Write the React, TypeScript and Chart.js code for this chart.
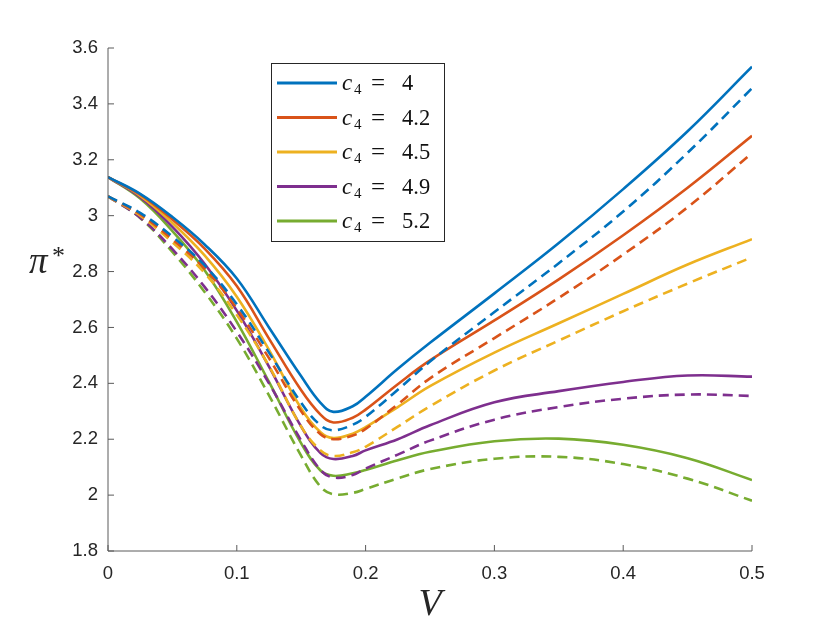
import React, { useEffect, useRef } from 'react';
import { Chart, registerables } from 'chart.js';

Chart.register(...registerables);

// V values (x-axis)
const V = [0, 0.025, 0.05, 0.075, 0.1, 0.125, 0.15, 0.165, 0.175, 0.19, 0.2, 0.225, 0.25, 0.3, 0.35, 0.4, 0.45, 0.5];

const c4Labels = ['4', '4.2', '4.5', '4.9', '5.2'];
const colors = ['#0072BD', '#D95319', '#EDB120', '#7E2F8E', '#77AC30'];

// solid curves
const solidC40 = [3.138, 3.078, 2.995, 2.897, 2.775, 2.6, 2.425, 2.33, 2.298, 2.318, 2.352, 2.452, 2.545, 2.722, 2.902, 3.095, 3.302, 3.533];
const solidC42 = [3.138, 3.075, 2.986, 2.882, 2.748, 2.56, 2.375, 2.288, 2.26, 2.277, 2.306, 2.397, 2.482, 2.625, 2.772, 2.93, 3.1, 3.286];
const solidC45 = [3.138, 3.071, 2.974, 2.858, 2.71, 2.52, 2.31, 2.225, 2.204, 2.22, 2.243, 2.315, 2.39, 2.51, 2.615, 2.72, 2.825, 2.916];
const solidC49 = [3.138, 3.066, 2.96, 2.828, 2.66, 2.46, 2.245, 2.15, 2.129, 2.14, 2.16, 2.2, 2.25, 2.332, 2.372, 2.405, 2.428, 2.424];
const solidC52 = [3.138, 3.061, 2.945, 2.805, 2.62, 2.405, 2.185, 2.088, 2.069, 2.078, 2.09, 2.125, 2.155, 2.193, 2.202, 2.18, 2.132, 2.054];

// dashed curves
const dashC40 = [3.069, 3.01, 2.925, 2.822, 2.683, 2.51, 2.33, 2.25, 2.232, 2.252, 2.28, 2.377, 2.478, 2.655, 2.83, 3.015, 3.225, 3.456];
const dashC42 = [3.069, 3.005, 2.915, 2.81, 2.668, 2.49, 2.3, 2.218, 2.2, 2.213, 2.237, 2.325, 2.418, 2.562, 2.706, 2.861, 3.03, 3.224];
const dashC45 = [3.069, 3.0, 2.905, 2.795, 2.645, 2.462, 2.245, 2.16, 2.14, 2.153, 2.173, 2.245, 2.318, 2.446, 2.553, 2.658, 2.757, 2.851];
const dashC49 = [3.069, 2.993, 2.88, 2.745, 2.585, 2.4, 2.195, 2.09, 2.063, 2.072, 2.095, 2.145, 2.195, 2.27, 2.315, 2.345, 2.36, 2.355];
const dashC52 = [3.069, 2.992, 2.87, 2.727, 2.56, 2.357, 2.14, 2.03, 2.003, 2.008, 2.022, 2.06, 2.093, 2.13, 2.137, 2.111, 2.059, 1.98];

const solidSeries = [solidC40, solidC42, solidC45, solidC49, solidC52];
const dashSeries = [dashC40, dashC42, dashC45, dashC49, dashC52];

const xTicks = [0, 0.1, 0.2, 0.3, 0.4, 0.5];
const xTickLabels = ['0', '0.1', '0.2', '0.3', '0.4', '0.5'];
const yTicks = [1.8, 2, 2.2, 2.4, 2.6, 2.8, 3, 3.2, 3.4, 3.6];
const yTickLabels = ['1.8', '2', '2.2', '2.4', '2.6', '2.8', '3', '3.2', '3.4', '3.6'];

const TICK_FONT = { family: '"Liberation Sans", Arial, sans-serif', size: 18.5 };
const TEXT_COLOR = '#262626';

const toPoints = (arr: number[]) => V.map((v, i) => ({ x: v, y: arr[i] }));

const labelFor = (ticks: number[], labels: string[], value: number) => {
  const i = ticks.findIndex((t) => Math.abs(t - value) < 1e-6);
  return i >= 0 ? labels[i] : '';
};

const axesPlugin = {
  id: 'matlabAxes',
  afterDatasetsDraw(chart: any) {
    const { ctx, chartArea, scales } = chart;
    const { left, right, top, bottom } = chartArea;
    const x = scales.x;
    const y = scales.y;
    ctx.save();
    ctx.strokeStyle = '#5a5a5a';
    ctx.lineWidth = 1;
    ctx.beginPath();
    ctx.moveTo(left, top);
    ctx.lineTo(left, bottom);
    ctx.lineTo(right, bottom);
    ctx.stroke();
    ctx.beginPath();
    yTicks.forEach((v) => {
      const py = y.getPixelForValue(v);
      ctx.moveTo(left, py);
      ctx.lineTo(left + 6, py);
    });
    xTicks.forEach((v) => {
      const px = x.getPixelForValue(v);
      ctx.moveTo(px, bottom);
      ctx.lineTo(px, bottom - 6);
    });
    ctx.stroke();

    // axis titles
    ctx.fillStyle = TEXT_COLOR;
    ctx.textBaseline = 'alphabetic';
    ctx.textAlign = 'center';
    ctx.font = 'italic 38px "Liberation Serif", "DejaVu Serif", serif';
    ctx.fillText('V', (left + right) / 2, 615);

    ctx.textAlign = 'left';
    ctx.font = 'italic 37px "Liberation Serif", "DejaVu Serif", serif';
    ctx.fillText('\u03C0', 29, 273);
    ctx.font = '26px "Liberation Serif", "DejaVu Serif", serif';
    ctx.fillText('*', 52, 264);
    ctx.restore();
  },
};

const legendPlugin = {
  id: 'boxLegend',
  afterDraw(chart: any) {
    const { ctx, chartArea } = chart;
    const bx = chartArea.left + 163;
    const by = chartArea.top + 15;
    const bw = 173;
    const bh = 178;
    ctx.save();
    ctx.fillStyle = '#ffffff';
    ctx.fillRect(bx, by, bw, bh);
    ctx.strokeStyle = '#262626';
    ctx.lineWidth = 1;
    ctx.strokeRect(bx + 0.5, by + 0.5, bw, bh);
    const rowH = 34.5;
    c4Labels.forEach((lab, i) => {
      const cy = by + 20 + i * rowH;
      ctx.strokeStyle = colors[i];
      ctx.lineWidth = 2.8;
      ctx.setLineDash([]);
      ctx.beginPath();
      ctx.moveTo(bx + 6, cy);
      ctx.lineTo(bx + 66, cy);
      ctx.stroke();
      const tx = bx + 71;
      const base = cy + 7;
      ctx.fillStyle = '#111111';
      ctx.textAlign = 'left';
      ctx.textBaseline = 'alphabetic';
      ctx.font = 'italic 23px "Liberation Serif", "DejaVu Serif", serif';
      ctx.fillText('c', tx, base);
      ctx.font = '15px "Liberation Serif", "DejaVu Serif", serif';
      ctx.fillText('4', tx + 12, base + 4);
      ctx.font = '25px "Liberation Serif", "DejaVu Serif", serif';
      ctx.fillText('=', tx + 29, base + 1);
      ctx.font = '22.5px "Liberation Serif", "DejaVu Serif", serif';
      ctx.fillText(lab, tx + 60, base);
    });
    ctx.restore();
  },
};

export default function App() {
  const canvasRef = useRef<HTMLCanvasElement | null>(null);

  useEffect(() => {
    if (!canvasRef.current) return;
    const datasets: any[] = [];
    c4Labels.forEach((lab, i) => {
      datasets.push({
        label: 'c4 = ' + lab,
        data: toPoints(solidSeries[i]),
        borderColor: colors[i],
        borderWidth: 2.6,
        pointRadius: 0,
        fill: false,
        tension: 0.4,
      });
      datasets.push({
        label: 'c4 = ' + lab + ' (dashed)',
        data: toPoints(dashSeries[i]),
        borderColor: colors[i],
        borderWidth: 2.6,
        borderDash: [10, 6],
        pointRadius: 0,
        fill: false,
        tension: 0.4,
      });
    });

    const chart = new Chart(canvasRef.current, {
      type: 'line',
      data: { datasets },
      options: {
        animation: false,
        responsive: false,
        layout: { padding: { left: 0, top: 48, right: 78, bottom: 0 } },
        plugins: {
          legend: { display: false },
          tooltip: { enabled: false },
        },
        scales: {
          x: {
            type: 'linear',
            min: 0,
            max: 0.5,
            grid: { display: false, drawTicks: false },
            border: { display: false },
            afterBuildTicks: (s: any) => {
              s.ticks = xTicks.map((v) => ({ value: v }));
            },
            afterFit: (s: any) => {
              s.height = 78;
            },
            ticks: {
              font: TICK_FONT,
              color: TEXT_COLOR,
              padding: 12,
              maxRotation: 0,
              autoSkip: false,
              callback: (value: any) => labelFor(xTicks, xTickLabels, Number(value)),
            },
          },
          y: {
            type: 'linear',
            min: 1.8,
            max: 3.6,
            grid: { display: false, drawTicks: false },
            border: { display: false },
            afterBuildTicks: (s: any) => {
              s.ticks = yTicks.map((v) => ({ value: v }));
            },
            afterFit: (s: any) => {
              s.width = 108;
            },
            ticks: {
              font: TICK_FONT,
              color: TEXT_COLOR,
              padding: 10,
              autoSkip: false,
              callback: (value: any) => labelFor(yTicks, yTickLabels, Number(value)),
            },
          },
        },
      } as any,
      plugins: [axesPlugin, legendPlugin],
    });
    return () => chart.destroy();
  }, []);

  return (
    <div style={{ position: 'absolute', left: 0, top: 0, width: 830, height: 629, background: '#fff' }}>
      <canvas ref={canvasRef} width={830} height={629} style={{ width: 830, height: 629, display: 'block' }} />
    </div>
  );
}
